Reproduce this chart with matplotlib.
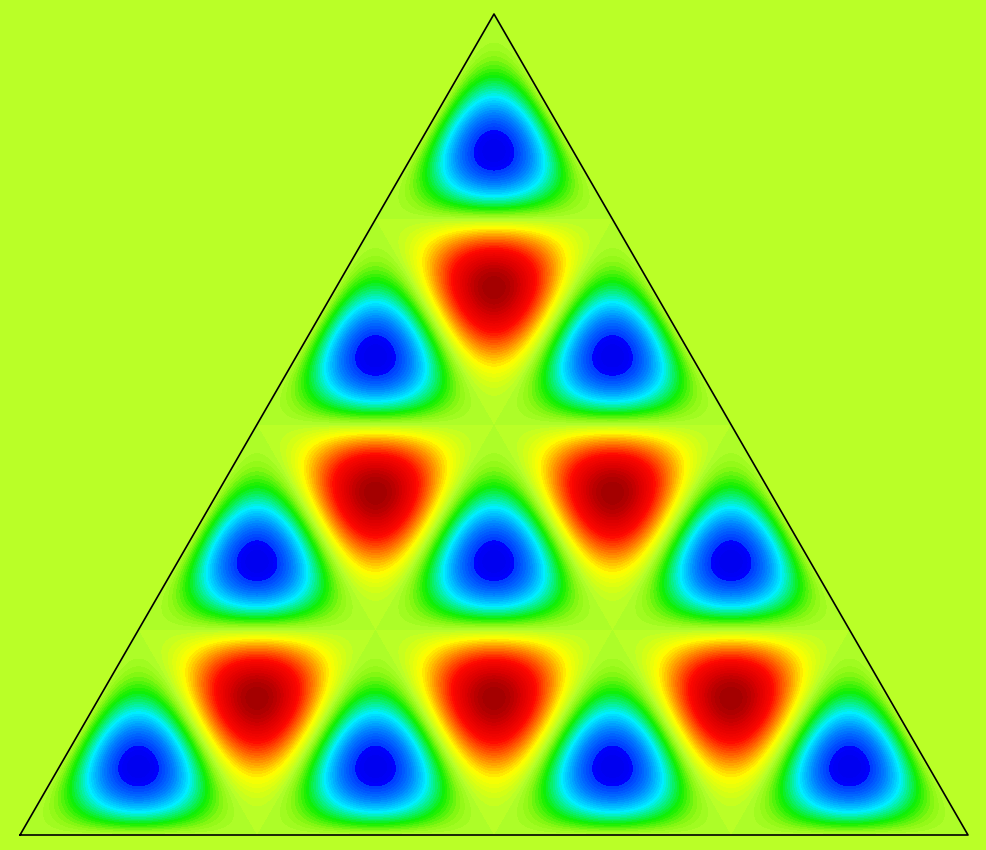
import numpy as np
import matplotlib
matplotlib.use('Agg')
import matplotlib.pyplot as plt
from matplotlib.colors import LinearSegmentedColormap, TwoSlopeNorm

# equilateral domain, split into rows x rows small triangles
side = 1.0
rows = 4
n_colors = 64

h = side * np.sqrt(3) / 2
tri_x = [0, side, side / 2, 0]
tri_y = [0, 0, h, 0]

# view window in data units (948 px per unit side)
px = 948.0
x0, x1 = -20 / px, 967 / px
y0, y1 = -15 / px, 835 / px
nx, ny = 987, 850

# sample at pixel centres
x = x0 + (np.arange(nx) + 0.5) * (x1 - x0) / nx
y = y0 + (np.arange(ny) + 0.5) * (y1 - y0) / ny
X, Y = np.meshgrid(x, y)

# barycentric coordinates
lc = Y / h
lb = X / side - lc / 2
la = 1 - lb - lc
inside = (la >= 0) & (lb >= 0) & (lc >= 0)

# Dirichlet mode: product of sines vanishing on every grid line
U = np.sin(rows * np.pi * la) * np.sin(rows * np.pi * lb) * np.sin(rows * np.pi * lc)
U[~inside] = 0.0

# blue (min) -> cyan -> green -> yellow-green (zero) -> yellow -> red -> dark red (max)
stops = [
    (0.000, '#0000f0'),
    (0.036, '#0000ff'),
    (0.040, '#0038ff'),
    (0.130, '#0084ff'),
    (0.240, '#00f0ff'),
    (0.370, '#10f000'),
    (0.450, '#8cf814'),
    (0.500, '#b4ff2c'),
    (0.545, '#d8ff14'),
    (0.600, '#ffff00'),
    (0.700, '#ff9000'),
    (0.830, '#ff0800'),
    (0.920, '#dc0000'),
    (1.000, '#a40000'),
]
cmap = LinearSegmentedColormap.from_list('field', stops, N=n_colors)
norm = TwoSlopeNorm(vcenter=0.0, vmin=U.min(), vmax=U.max())

fig = plt.figure(figsize=(9.87, 8.5), dpi=100)
ax = fig.add_axes([0, 0, 1, 1])
ax.imshow(U, cmap=cmap, norm=norm, origin='lower',
          extent=[x0, x1, y0, y1], interpolation='nearest',
          aspect='auto')
ax.plot(tri_x, tri_y, color='black', linewidth=1.2)
ax.set_xlim(x0, x1)
ax.set_ylim(y0, y1)
ax.axis('off')

fig.savefig('out.png', dpi=100)
